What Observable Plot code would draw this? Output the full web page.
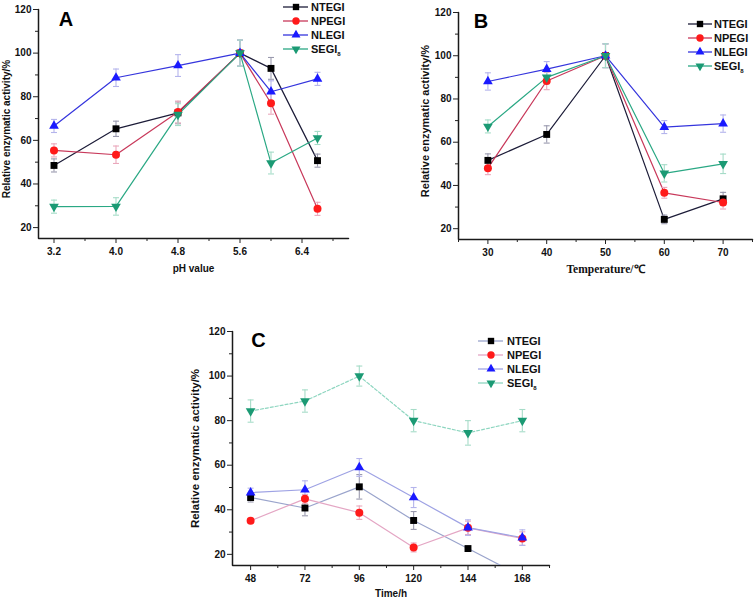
<!DOCTYPE html>
<html><head><meta charset="utf-8">
<script src="https://cdn.jsdelivr.net/npm/d3@7"></script>
<script src="https://cdn.jsdelivr.net/npm/@observablehq/plot@0.6"></script>
<style>
body{margin:0;background:#fff;}
#wrap{position:relative;width:756px;height:600px;overflow:hidden;background:#fff;font-family:"Liberation Sans",Arial,sans-serif;}
.panel{position:absolute;}
</style></head><body><div id="wrap"></div>
<script>
// ---------- data ----------
const seriesNames = ["NTEGI", "NPEGI", "NLEGI", "SEGI₈"];

const pH = [3.2, 4.0, 4.8, 5.6, 6.0, 6.6];
const A_NTEGI = [48.5, 65.3, 72.6, 100, 93, 50.7];
const A_NPEGI = [55.4, 53.4, 73, 100, 77, 28.6];
const A_NLEGI = [66.6, 88.7, 94.3, 100, 82.3, 88.2];
const A_SEGI8 = [29.6, 29.7, 71.8, 100, 49.6, 61.1];
const A_NTEGI_err = [3, 3.5, 5, 6, 5, 3];
const A_NPEGI_err = [3, 4, 5, 6, 5, 3];
const A_NLEGI_err = [3, 4, 5, 6, 5, 3];
const A_SEGI8_err = [3, 4, 5, 6, 5, 3];
const A_xTicks = [3.2, 4.0, 4.8, 5.6, 6.4];
const A_xMinor = [3.6, 4.4, 5.2, 6.0, 6.8];

const temp = [30, 40, 50, 60, 70];
const B_NTEGI = [51.6, 63.6, 100, 24.3, 33.8];
const B_NPEGI = [48, 88.3, 100, 36.6, 32.1];
const B_NLEGI = [88.1, 93.8, 100, 67, 68.6];
const B_SEGI8 = [67.3, 90, 100, 45.6, 50];
const B_NTEGI_err = [3, 4, 5.5, 2, 3];
const B_NPEGI_err = [3, 4, 5.5, 2.5, 3];
const B_NLEGI_err = [4, 3.5, 5.5, 3, 4];
const B_SEGI8_err = [3, 3, 5.5, 4, 4.5];
const B_xTicks = [30, 40, 50, 60, 70];
const B_xMinor = [25, 35, 45, 55, 65, 75];

const time = [48, 72, 96, 120, 144, 168];
const C_NTEGI = [45.5, 40.8, 50.3, 35.2, 22.6, 10];
const C_NPEGI = [35.1, 44.9, 38.7, 23.1, 31.9, 27.1];
const C_NLEGI = [47.7, 49, 59, 45.5, 32, 27.5];
const C_SEGI8 = [84.3, 88.8, 100, 80, 74.5, 80];
const C_NTEGI_err = [2, 3.5, 5.5, 4, 1, 0];
const C_NPEGI_err = [1, 2, 3, 2, 3, 3];
const C_NLEGI_err = [2, 4, 4, 4.5, 3.5, 3.5];
const C_SEGI8_err = [5, 5, 4.5, 5, 5.5, 5];
const C_xTicks = [48, 72, 96, 120, 144, 168];
const C_xMinor = [60, 84, 108, 132, 156, 180];

const yTicks = [20, 40, 60, 80, 100, 120];
const yMinor = [30, 50, 70, 90, 110];

// ---------- styles ----------
const markerColor = ["#000000", "#ff1a1a", "#1a1aff", "#1b9a74"];
const lineColorAB = ["#1c1c38", "#c8385a", "#3535dd", "#2aa884"];
const lineColorC = ["#9aa4cc", "#e4a6c4", "#9ea2e4", "#8ed6c0"];
const errColor = ["#9a9aae", "#eaa8bc", "#b4b4ec", "#a6dcc8"];
const symbols = ["square", "circle", "triangle", "triangleDown"];
const sizes = [3.9, 4.0, 3.6, 3.6];

const capSymbol = {draw(ctx) { ctx.moveTo(-3, 0); ctx.lineTo(3, 0); }};
const triDown = {draw(ctx, size) {
  const y = -Math.sqrt(size / (Math.sqrt(3) * 3));
  const s3 = Math.sqrt(3);
  ctx.moveTo(0, -y * 2); ctx.lineTo(-s3 * y, y); ctx.lineTo(s3 * y, y); ctx.closePath();
}};
function sym(i) { return symbols[i] === "triangleDown" ? triDown : symbols[i]; }

function rowsFor(xs, ys, es) { return xs.map((x, i) => ({x, y: ys[i], e: es[i]})); }

function panel(cfg) {
  const marks = [];
  const [xMin, xMax] = cfg.xDomain;
  const [yMin, yMax] = cfg.yDomain;
  // L-shaped axis line (left + bottom), drawn from the scale domains
  marks.push(Plot.line([{x: xMin, y: yMax}, {x: xMin, y: yMin}, {x: xMax, y: yMin}], {x: "x", y: "y", stroke: "#1a1a1a", strokeWidth: 1.5, strokeLinejoin: "miter"}));
  cfg.series.forEach((ser, i) => {
    const rows = rowsFor(cfg.xs, ser.y, ser.e);
    marks.push(Plot.line(rows, {x: "x", y: "y", stroke: cfg.lineColors[i], strokeWidth: 1.2, strokeDasharray: cfg.dash ? cfg.dash[i] : null, clip: true}));
  });
  cfg.series.forEach((ser, i) => {
    const rows = rowsFor(cfg.xs, ser.y, ser.e).filter(d => d.e > 0);
    marks.push(Plot.ruleX(rows, {x: "x", y1: d => d.y - d.e, y2: d => d.y + d.e, stroke: errColor[i], strokeWidth: 1.1, clip: true}));
    marks.push(Plot.dot(rows, {x: "x", y: d => d.y + d.e, symbol: capSymbol, fill: "none", stroke: errColor[i], strokeWidth: 1.1, clip: true}));
    marks.push(Plot.dot(rows, {x: "x", y: d => d.y - d.e, symbol: capSymbol, fill: "none", stroke: errColor[i], strokeWidth: 1.1, clip: true}));
  });
  cfg.series.forEach((ser, i) => {
    const rows = rowsFor(cfg.xs, ser.y, ser.e);
    marks.push(Plot.dot(rows, {x: "x", y: "y", symbol: sym(i), r: sizes[i], fill: markerColor[i], stroke: "none", clip: true}));
  });
  marks.push(Plot.axisX(cfg.xTicks, {tickSize: 5, tickPadding: 4, tickFormat: cfg.xFormat, label: null, stroke: "#222", fill: "#111", fontWeight: "bold", fontSize: 10}));
  marks.push(Plot.axisX(cfg.xMinor, {tickSize: 3, tickFormat: () => "", label: null, stroke: "#222"}));
  marks.push(Plot.axisY(yTicks, {tickSize: 5, tickPadding: 2, label: null, stroke: "#222", fill: "#111", fontWeight: "bold", fontSize: 10}));
  marks.push(Plot.axisY(yMinor, {tickSize: 3, tickFormat: () => "", label: null, stroke: "#222"}));
  // labels
  marks.push(Plot.text([cfg.yLabel], {frameAnchor: "left", text: d => d, rotate: -90, dx: cfg.yLabelDx, dy: cfg.yLabelDy, fontSize: cfg.yLabelSize, fontWeight: "bold", fill: "#111", textAnchor: "middle"}));
  marks.push(Plot.text([cfg.xLabel], {frameAnchor: "bottom", text: d => d, dy: cfg.xLabelDy, fontSize: cfg.xLabelSize, fontWeight: "bold", fill: "#111", fontFamily: cfg.xLabelFont, lineAnchor: "middle"}));
  marks.push(Plot.text([cfg.tag], {frameAnchor: "top-left", text: d => d, dx: cfg.tagDx, dy: cfg.tagDy, fontSize: 20, fontWeight: "bold", fill: "#000", textAnchor: "middle", lineAnchor: "middle"}));
  const p = Plot.plot({
    width: cfg.width, height: cfg.height,
    marginLeft: cfg.ml, marginRight: cfg.mr, marginTop: cfg.mt, marginBottom: cfg.mb,
    x: {domain: cfg.xDomain, axis: null},
    y: {domain: cfg.yDomain, axis: null},
    style: {fontFamily: "Liberation Sans, Arial, sans-serif", fontSize: "10px", background: "transparent", overflow: "visible"},
    marks
  });
  p.classList.add("panel");
  p.style.left = cfg.left + "px";
  p.style.top = cfg.top + "px";
  return p;
}

const wrap = document.getElementById("wrap");

wrap.appendChild(panel({
  left: 0, top: 0, width: 360, height: 290, ml: 38, mr: 12, mt: 9, mb: 52,
  xs: pH, xDomain: [3.0, 7.0], yDomain: [15, 120],
  series: [{y: A_NTEGI, e: A_NTEGI_err}, {y: A_NPEGI, e: A_NPEGI_err}, {y: A_NLEGI, e: A_NLEGI_err}, {y: A_SEGI8, e: A_SEGI8_err}],
  lineColors: lineColorAB, xTicks: A_xTicks, xMinor: A_xMinor, xFormat: d => d.toFixed(1),
  yLabel: "Relative enzymatic activity/%", yLabelDx: -32, yLabelDy: 5, yLabelSize: 10,
  xLabel: "pH value", xLabelDy: 30, xLabelSize: 10, xLabelFont: "Liberation Sans, Arial, sans-serif",
  tag: "A", tagDx: 27.5, tagDy: 10.5
}));

wrap.appendChild(panel({
  left: 380, top: 0, width: 376, height: 290, ml: 78, mr: 4, mt: 12, mb: 51,
  xs: temp, xDomain: [25, 75], yDomain: [15, 120],
  series: [{y: B_NTEGI, e: B_NTEGI_err}, {y: B_NPEGI, e: B_NPEGI_err}, {y: B_NLEGI, e: B_NLEGI_err}, {y: B_SEGI8, e: B_SEGI8_err}],
  lineColors: lineColorAB, xTicks: B_xTicks, xMinor: B_xMinor, xFormat: d => String(d),
  yLabel: "Relative enzymatic activity/%", yLabelDx: -33, yLabelDy: -5, yLabelSize: 11,
  xLabel: "Temperature/℃", xLabelDy: 30, xLabelSize: 11.5, xLabelFont: "Liberation Serif, Times New Roman, serif",
  tag: "B", tagDx: 22.5, tagDy: 9.5
}));

wrap.appendChild(panel({
  left: 190, top: 300, width: 400, height: 300, ml: 42, mr: 41, mt: 31, mb: 35,
  xs: time, xDomain: [40, 180], yDomain: [15, 120],
  series: [{y: C_NTEGI, e: C_NTEGI_err}, {y: C_NPEGI, e: C_NPEGI_err}, {y: C_NLEGI, e: C_NLEGI_err}, {y: C_SEGI8, e: C_SEGI8_err}],
  lineColors: lineColorC, dash: [null, null, null, "3,2"], xTicks: C_xTicks, xMinor: C_xMinor, xFormat: d => String(d),
  yLabel: "Relative enzymatic activity/%", yLabelDx: -37, yLabelDy: 0, yLabelSize: 11.5,
  xLabel: "Time/h", xLabelDy: 28, xLabelSize: 10, xLabelFont: "Liberation Sans, Arial, sans-serif",
  tag: "C", tagDx: 26, tagDy: 9
}));

// ---------- legends ----------
const legends = [
  {x1: 283, x2: 308, mx: 296, tx: 311, ys: [7, 21, 35, 49], colors: lineColorAB},
  {x1: 688, x2: 712, mx: 700, tx: 714, ys: [24, 38, 52, 66], colors: lineColorAB},
  {x1: 478, x2: 503, mx: 491, tx: 507, ys: [341, 355, 369, 383], colors: lineColorC}
];
const lsvg = d3.select(wrap).append("svg").attr("width", 756).attr("height", 600)
  .style("position", "absolute").style("left", "0px").style("top", "0px").style("pointer-events", "none");
const d3sym = [d3.symbolSquare, d3.symbolCircle, d3.symbolTriangle, triDown];
legends.forEach(L => {
  seriesNames.forEach((name, i) => {
    const y = L.ys[i];
    lsvg.append("line").attr("x1", L.x1).attr("x2", L.x2).attr("y1", y).attr("y2", y)
      .attr("stroke", L.colors[i]).attr("stroke-width", 1.3);
    lsvg.append("path").attr("d", d3.symbol(d3sym[i], Math.PI * sizes[i] * sizes[i] * 0.85)())
      .attr("transform", `translate(${L.mx},${y})`).attr("fill", markerColor[i]);
    const t = lsvg.append("text").attr("x", L.tx).attr("y", y).attr("dy", "0.36em")
      .attr("font-family", "Liberation Sans, Arial, sans-serif").attr("font-weight", "bold")
      .attr("font-size", 11).attr("fill", "#111");
    if (name.endsWith("₈")) {
      t.append("tspan").text(name.slice(0, -1));
      t.append("tspan").attr("font-size", 6).attr("dy", "0.5em").text("8");
    } else t.text(name);
  });
});
</script></body></html>
